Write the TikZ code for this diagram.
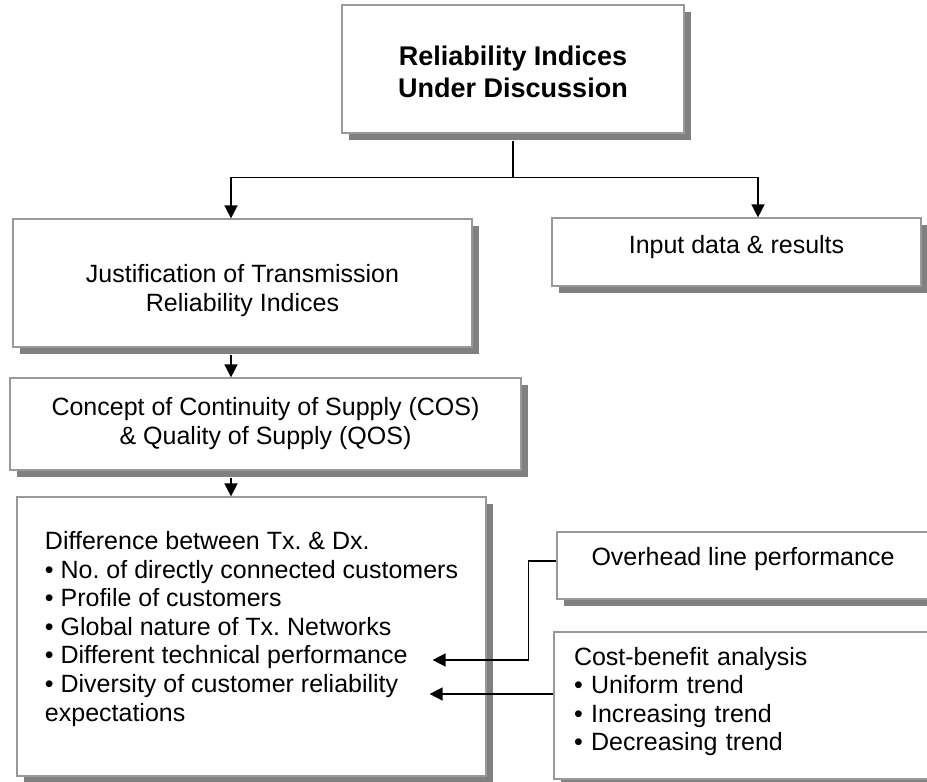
\documentclass[tikz,border=0pt]{standalone}
\usepackage{fontspec}
\setmainfont{Liberation Sans}
\frenchspacing
\usetikzlibrary{arrows.meta, shadows}
\tikzstyle{box} = [rectangle, draw=gray!80, line width=1.2pt, fill=white, inner sep=0pt,
  drop shadow={shadow xshift=7pt, shadow yshift=-7pt, fill=gray, opacity=1},
  font=\fontsize{25}{28.6}\selectfont]
\tikzstyle{line} = [line width=1.5pt]
\tikzstyle{arrow} = [line width=1.5pt, -{Triangle[length=13pt, width=13pt]}]

\begin{document}
\begin{tikzpicture}[node distance=140pt]
\useasboundingbox (0,0) rectangle (927pt,-782pt);

\node (idx) [box, minimum width=342pt, text height=92pt, text depth=36pt, align=center,
  font=\fontsize{27}{32}\selectfont\bfseries] at (513pt,-69pt) {Reliability Indices\\Under Discussion};
\node (just) [box, below of=idx, xshift=-270.5pt, yshift=-74pt, minimum width=459pt,
  text height=92pt, text depth=36pt, align=center] {Justification of Transmission\\Reliability Indices};
\node (input) [box, below of=idx, xshift=223.5pt, yshift=-43pt, minimum width=369pt,
  text height=35pt, text depth=33pt] {Input data \& results};
\node (cos) [box, below of=just, xshift=23pt, yshift=-1pt, minimum width=511pt,
  text height=66pt, text depth=26pt, align=center] {Concept of Continuity of Supply (COS)\\\& Quality of Supply (QOS)};
\node (diff) [box, below of=cos, xshift=-14pt, yshift=-72.5pt, minimum width=469pt,
  text height=224pt, text depth=55pt, align=left] {Difference between Tx. \& Dx.\\
  • No. of directly connected customers\\
  • Profile of customers\\
  • Global nature of Tx. Networks\\
  • Different technical performance\\
  • Diversity of customer reliability\\
  expectations};
\node (ohl) [box, right of=diff, xshift=351.5pt, yshift=71pt, minimum width=372pt,
  text height=33pt, text depth=34pt] {Overhead line performance};
\node (cba) [box, below of=ohl, xshift=-1pt, minimum width=376pt, text width=336pt,
  text height=33pt, text depth=114pt, align=left] {Cost-benefit analysis\\
  • Uniform trend\\
  • Increasing trend\\
  • Decreasing trend};

\coordinate (fork) at ([yshift=-44pt]idx.south);
\coordinate (perf) at ([xshift=-54pt, yshift=-23.5pt]diff.east);
\coordinate (expect) at ([xshift=-57pt, yshift=-57.5pt]diff.east);

\draw [line] ([yshift=-7pt]idx.south) -- (fork);
\draw [arrow] (fork) -| ([xshift=-11.5pt]just.north);
\draw [arrow] (fork) -| ([xshift=21.5pt]input.north);
\draw [arrow] ([xshift=-11.5pt, yshift=-7pt]just.south) -- ([xshift=-34.5pt]cos.north);
\draw [arrow] ([xshift=-34.5pt, yshift=-7pt]cos.south) -- ([xshift=-20.5pt]diff.north);
\draw [arrow] ([yshift=4.5pt]ohl.west) -- ++(-28pt,0) |- (perf);
\draw [arrow] ([yshift=11.5pt]cba.west) -- (expect);
\end{tikzpicture}
\end{document}
